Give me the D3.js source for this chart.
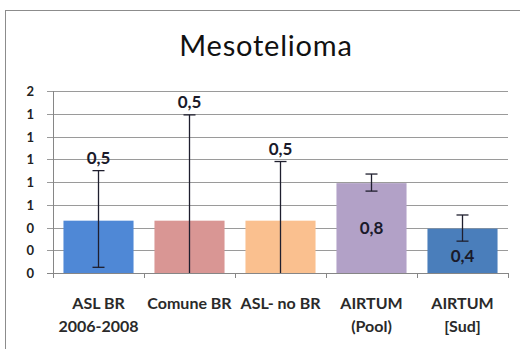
<!DOCTYPE html>
<html><head><meta charset="utf-8">
<script src="https://cdn.jsdelivr.net/npm/d3@7"></script>
<style>body{margin:0;background:#fff;} svg{display:block;}</style>
</head><body>
<script>
const categories = [["ASL BR","2006-2008"],["Comune BR",""],["ASL- no BR",""],["AIRTUM","(Pool)"],["AIRTUM","[Sud]"]];
const values = [0.46, 0.46, 0.46, 0.79, 0.39];
const errLow = [0.05, 0, 0, 0.72, 0.28];
const errHigh = [0.9, 1.39, 0.98, 0.87, 0.51];
const valueLabels = ["0,5","0,5","0,5","0,8","0,4"];
const labelInside = [false,false,false,true,true];
const colors = ["#4F88D6","#D99694","#FAC08F","#B2A1C7","#4A7EBB"];
const yTicks = [0,0.2,0.4,0.6,0.8,1.0,1.2,1.4,1.6];
const yTickLabels = ["0","0","0","1","1","1","1","1","2"];

const W=520,H=349;
const font = "Lato, 'Open Sans', sans-serif";
const svg = d3.select("body").append("svg").attr("width",W).attr("height",H);
svg.append("rect").attr("x",5.5).attr("y",10.5).attr("width",530).attr("height",350)
  .attr("fill","#fff").attr("stroke","#8c8c8c");
svg.append("text").attr("x",266).attr("y",56).attr("text-anchor","middle")
  .attr("font-family",font).attr("font-size",29).attr("letter-spacing",0.8).attr("fill","#111").text("Mesotelioma");

const idx = categories.map((d,i)=>i);
const x = d3.scaleBand().domain(idx).range([53,508]).paddingInner(0.23).paddingOuter(0.115);
const y = d3.scaleLinear().domain([0,1.6]).range([273,91]);

// gridlines
svg.append("g").selectAll("line").data(yTicks).join("line")
  .attr("x1",47).attr("x2",508).attr("y1",d=>Math.round(y(d))+0.5).attr("y2",d=>Math.round(y(d))+0.5)
  .attr("stroke",d=>d===0?"#868686":"#9a9a9a").attr("stroke-width",1);
// y axis line
svg.append("line").attr("x1",53.5).attr("x2",53.5).attr("y1",y(1.6)).attr("y2",y(0)+5).attr("stroke","#868686");
// y labels
svg.append("g").selectAll("text").data(yTicks).join("text")
  .attr("x",34).attr("y",d=>y(d)+5).attr("text-anchor","end")
  .attr("font-family",font).attr("font-weight","bold").attr("font-size",13).attr("fill","#222")
  .text((d,i)=>yTickLabels[i]);
// x ticks
const bounds = [0,1,2,3,4].map(i=>x(i)-x.step()*x.paddingInner()/2).concat([508]);
svg.append("g").selectAll("line").data(bounds).join("line")
  .attr("x1",d=>Math.round(d)+0.5).attr("x2",d=>Math.round(d)+0.5).attr("y1",y(0)).attr("y2",y(0)+5).attr("stroke","#868686");

// bars
svg.append("g").selectAll("rect").data(values).join("rect")
  .attr("x",(d,i)=>x(i)).attr("width",x.bandwidth())
  .attr("y",d=>y(d)).attr("height",d=>y(0)-y(d))
  .attr("fill",(d,i)=>colors[i]);

// error bars
const eg = svg.append("g").attr("stroke","#1f1f2e").attr("stroke-width",1.3);
idx.forEach(i=>{
  const cx = x(i)+x.bandwidth()/2;
  eg.append("line").attr("x1",cx).attr("x2",cx).attr("y1",y(errHigh[i])).attr("y2",y(errLow[i]));
  eg.append("line").attr("x1",cx-6).attr("x2",cx+6).attr("y1",y(errHigh[i])).attr("y2",y(errHigh[i]));
  if(errLow[i]>0) eg.append("line").attr("x1",cx-6).attr("x2",cx+6).attr("y1",y(errLow[i])).attr("y2",y(errLow[i]));
});

// value labels
svg.append("g").selectAll("text").data(valueLabels).join("text")
  .attr("x",(d,i)=>x(i)+x.bandwidth()/2)
  .attr("y",(d,i)=> labelInside[i] ? (y(values[i])+y(0))/2 + (i===4?11:6) : y(errHigh[i])-7)
  .attr("text-anchor","middle").attr("font-family",font).attr("font-weight","bold")
  .attr("font-size",17).attr("fill","#1a1a2a").text(d=>d);

// category labels
const cg = svg.append("g");
categories.forEach((c,i)=>{
  const cx = x(i)+x.bandwidth()/2;
  c.forEach((t,j)=>{
    if(!t) return;
    cg.append("text").attr("x",cx).attr("y",309+j*23).attr("text-anchor","middle")
      .attr("font-family",font).attr("font-weight","bold").attr("font-size",16).attr("fill","#2a2a2a").text(t);
  });
});
</script>
</body></html>
